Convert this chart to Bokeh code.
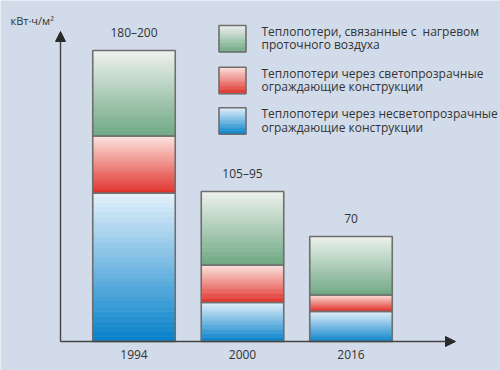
import numpy as np
from bokeh.plotting import figure
from bokeh.models import Range1d, Arrow, NormalHead
from bokeh.core.properties import value
from bokeh.embed import file_html
from bokeh.resources import INLINE

# ---------------- data ----------------
years = ["1994", "2000", "2016"]
air_heating = [57, 49, 39]        # green (top)
glazed = [38, 25, 11]             # red (middle)
opaque = [99, 26, 20]             # blue (bottom)
total_labels = ["180–200", "105–95", "70"]
legend_labels = [
    ["Теплопотери, связанные с\u00a0 нагревом", "проточного воздуха"],
    ["Теплопотери через светопрозрачные", "ограждающие конструкции"],
    ["Теплопотери через несветопрозрачные", "ограждающие конструкции"],
]
unit_label = "кВт·ч/м²"

# ---------------- styles ----------------
BG = "#d2dbe9"
EDGE = "#6e6e6e"
TXT = "#333333"
FONT = "Open Sans"
grad = {
    "green": ("#eff2ee", "#6ea882"),
    "red": ("#fde6e0", "#e2302a"),
    "blue": ("#e6f2fc", "#0480c9"),
}

W, H = 500, 370
# layout: reference-pixel helpers (for decorations only)
PXY = 1.5        # pixels per data unit (y)
PXX = 108.5      # pixels per category step (x)
def rx(px):
    return (px - 133.5) / PXX
def ry(py):
    return (341 - py) / PXY

p = figure(width=W, height=H, output_backend="svg", toolbar_location=None,
           x_range=Range1d(rx(0), rx(W)), y_range=Range1d(ry(H), ry(0)),
           min_border=0, background_fill_color=BG, border_fill_color=BG)
p.outline_line_color = None
p.axis.visible = False
p.grid.visible = False


def hexrgb(h):
    h = h.lstrip("#")
    return np.array([int(h[i:i + 2], 16) for i in (0, 2, 4)], dtype=float)


def gradient_quads(left, right, bottom, top, cname, n=30):
    c_top, c_bot = hexrgb(grad[cname][0]), hexrgb(grad[cname][1])
    h = (top - bottom) / n
    L, R, B, T, C = [], [], [], [], []
    for i in range(n):
        t = (i + 0.5) / n
        c = c_top * (1 - t) + c_bot * t
        T.append(top - i * h)
        B.append(top - (i + 1) * h)
        L.append(left)
        R.append(right)
        C.append("#%02x%02x%02x" % tuple(int(round(v)) for v in c))
    p.quad(left=L, right=R, bottom=B, top=T, fill_color=C, line_color=C, line_width=0.5)
    p.quad(left=[left], right=[right], bottom=[bottom], top=[top],
           fill_color=None, line_color=EDGE, line_width=1.6)


bw = 82.5 / PXX
xs = np.arange(len(years), dtype=float)
for i in range(len(years)):
    b0 = 0
    b1 = b0 + opaque[i]
    b2 = b1 + glazed[i]
    b3 = b2 + air_heating[i]
    gradient_quads(xs[i] - bw / 2, xs[i] + bw / 2, b0, b1, "blue")
    gradient_quads(xs[i] - bw / 2, xs[i] + bw / 2, b1, b2, "red")
    gradient_quads(xs[i] - bw / 2, xs[i] + bw / 2, b2, b3, "green")

tops = [a + g + o for a, g, o in zip(air_heating, glazed, opaque)]
p.text(x=list(xs), y=[t + 18.5 / PXY for t in tops], text=total_labels,
       text_font=value(FONT), text_font_size="12px", text_color=TXT,
       text_align="center", text_baseline="middle")

p.text(x=list(xs), y=[ry(354)] * len(years), text=years,
       text_font=value(FONT), text_font_size="12px", text_color=TXT,
       text_align="center", text_baseline="middle")

# axes with arrows
ax_x = rx(60)
p.add_layout(Arrow(end=NormalHead(size=10, fill_color="#2a2a2a", line_color="#2a2a2a"),
                   x_start=ax_x, y_start=0, x_end=ax_x, y_end=ry(31),
                   line_color="#444444", line_width=1.4))
p.add_layout(Arrow(end=NormalHead(size=10, fill_color="#2a2a2a", line_color="#2a2a2a"),
                   x_start=ax_x, y_start=0, x_end=rx(455), y_end=0,
                   line_color="#444444", line_width=1.4))

p.text(x=[rx(10)], y=[ry(20)], text=[unit_label], text_font=value(FONT),
       text_font_size="11px", text_color=TXT, text_align="left", text_baseline="middle")

# legend
box_tops = [25, 66.7, 107.3]
names = ["green", "red", "blue"]
for k in range(3):
    t = box_tops[k]
    gradient_quads(rx(218.5), rx(245.5), ry(t + 26.5), ry(t), names[k], n=20)
    p.text(x=[rx(261)] * 2, y=[ry(t + 6), ry(t + 19.3)], text=legend_labels[k],
           text_font=value(FONT), text_font_size="12px", text_color=TXT,
           text_align="left", text_baseline="middle")

open("out.html", "w").write(file_html(p, INLINE))
